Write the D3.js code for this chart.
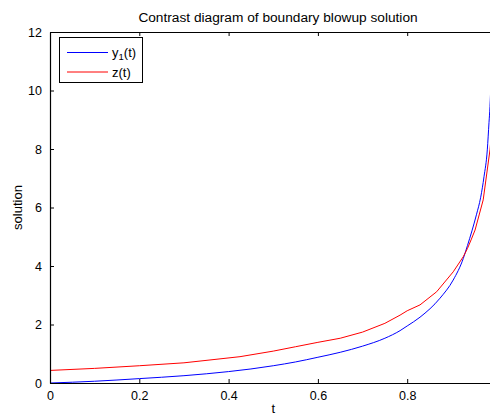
<!DOCTYPE html>
<html>
<head>
<meta charset="utf-8">
<script src="https://cdn.jsdelivr.net/npm/d3@7"></script>
<style>
  body { margin: 0; background: #fff; }
  svg { display: block; font-family: "Liberation Sans", Arial, sans-serif; }
</style>
</head>
<body>
<svg width="490" height="417"></svg>
<script>
  // values
  var tBlue = [0, 0.1, 0.2, 0.3, 0.4, 0.45, 0.5, 0.55, 0.6, 0.65, 0.7, 0.75, 0.784, 0.8, 0.8287, 0.8735, 0.903, 0.9257, 0.935, 0.945, 0.955, 0.9646, 0.972, 0.9794, 0.9832, 0.9854, 0.99];
  var yBlue = [0, 0.06, 0.15, 0.25, 0.39, 0.48, 0.59, 0.72, 0.88, 1.05, 1.26, 1.53, 1.79, 1.95, 2.25, 2.9, 3.52, 4.26, 4.7, 5.2, 5.75, 6.35, 7.05, 7.97, 8.9, 9.45, 11.5];
  var tRed = [0, 0.1, 0.2, 0.3, 0.4255, 0.5, 0.55, 0.6, 0.65, 0.7, 0.75, 0.784, 0.8, 0.8287, 0.866, 0.903, 0.9257, 0.935, 0.943, 0.952, 0.9702, 0.9854, 0.995];
  var yRed = [0.43, 0.50, 0.59, 0.69, 0.90, 1.09, 1.24, 1.39, 1.53, 1.74, 2.04, 2.32, 2.47, 2.67, 3.12, 3.80, 4.32, 4.6, 4.89, 5.23, 6.26, 7.97, 9.6];
  var xTicks = [0, 0.2, 0.4, 0.6, 0.8];
  var yTicks = [0, 2, 4, 6, 8, 10, 12];
  var seriesNames = ["y1(t)", "z(t)"];
  var seriesColors = ["#0000ff", "#ff0000"];

  var mLeft = 50, mRight = 496.5, mTop = 32, mBottom = 383;
  var svg = d3.select("svg");

  var x = d3.scaleLinear().domain([0, 1]).range([mLeft, mRight]);
  var y = d3.scaleLinear().domain([0, 12]).range([mBottom, mTop]);

  svg.append("clipPath").attr("id", "clip")
    .append("rect")
    .attr("x", mLeft).attr("y", mTop)
    .attr("width", mRight - mLeft).attr("height", mBottom - mTop);

  // lines
  var line = d3.line()
    .x(function(d){ return x(d[0]); })
    .y(function(d){ return y(d[1]); });

  var series = [d3.zip(tBlue, yBlue), d3.zip(tRed, yRed)];
  svg.append("g").attr("clip-path", "url(#clip)")
    .selectAll("path").data(series).enter().append("path")
    .attr("d", function(d, i){ return i == 0 ? line.curve(d3.curveMonotoneX)(d) : line.curve(d3.curveLinear)(d); })
    .attr("fill", "none")
    .attr("stroke", function(d, i){ return seriesColors[i]; })
    .attr("stroke-width", 1);

  // axes (ticks pointing in)
  var fmt = function(d){ return d3.format("~g")(d); };
  svg.append("g").attr("transform", "translate(0," + mBottom + ")")
    .call(d3.axisBottom(x).tickValues(xTicks).tickSizeInner(-4).tickSizeOuter(0).tickPadding(8).tickFormat(fmt));
  svg.append("g").attr("transform", "translate(0," + mTop + ")")
    .call(d3.axisTop(x).tickValues(xTicks).tickSizeInner(-4).tickSizeOuter(0).tickFormat(""));
  svg.append("g").attr("transform", "translate(" + mLeft + ",0)")
    .call(d3.axisLeft(y).tickValues(yTicks).tickSizeInner(-4).tickSizeOuter(0).tickPadding(8).tickFormat(fmt));
  svg.append("g").attr("transform", "translate(" + mRight + ",0)")
    .call(d3.axisRight(y).tickValues(yTicks).tickSizeInner(-4).tickSizeOuter(0).tickFormat(""));

  svg.selectAll(".domain").attr("stroke", "#000").attr("stroke-width", 1.2);
  svg.selectAll(".tick line").attr("stroke", "#000");
  svg.selectAll(".tick text").attr("font-size", 12.5).attr("fill", "#000")
    .attr("font-family", "Liberation Sans, Arial, sans-serif");

  // titles
  svg.append("text").attr("x", 278).attr("y", 22)
    .attr("text-anchor", "middle").attr("font-size", 13.7).text("Contrast diagram of boundary blowup solution");
  svg.append("text").attr("x", (mLeft + mRight) / 2).attr("y", 413)
    .attr("text-anchor", "middle").attr("font-size", 13).text("t");
  svg.append("text").attr("transform", "translate(22," + (mTop + mBottom) / 2 + ") rotate(-90)")
    .attr("text-anchor", "middle").attr("font-size", 13).text("solution");

  // legend
  var lg = svg.append("g");
  lg.append("rect").attr("x", 59.5).attr("y", 37.5).attr("width", 83).attr("height", 45)
    .attr("fill", "#fff").attr("stroke", "#000").attr("stroke-width", 1);
  var rows = lg.selectAll("g.row").data(seriesNames).enter().append("g")
    .attr("transform", function(d, i){ return "translate(0," + (52.5 + i * 19.5) + ")"; });
  rows.append("line").attr("x1", 67).attr("x2", 108).attr("y1", 0).attr("y2", 0)
    .attr("stroke", function(d, i){ return seriesColors[i]; });
  rows.append("text").attr("x", 112).attr("y", 4.5).attr("font-size", 13)
    .each(function(d, i){
      var t = d3.select(this);
      if (i == 0) {
        t.append("tspan").text("y");
        t.append("tspan").attr("font-size", 9.5).attr("dy", 3).text("1");
        t.append("tspan").attr("dy", -3).text("(t)");
      } else {
        t.text(d);
      }
    });
</script>
</body>
</html>
